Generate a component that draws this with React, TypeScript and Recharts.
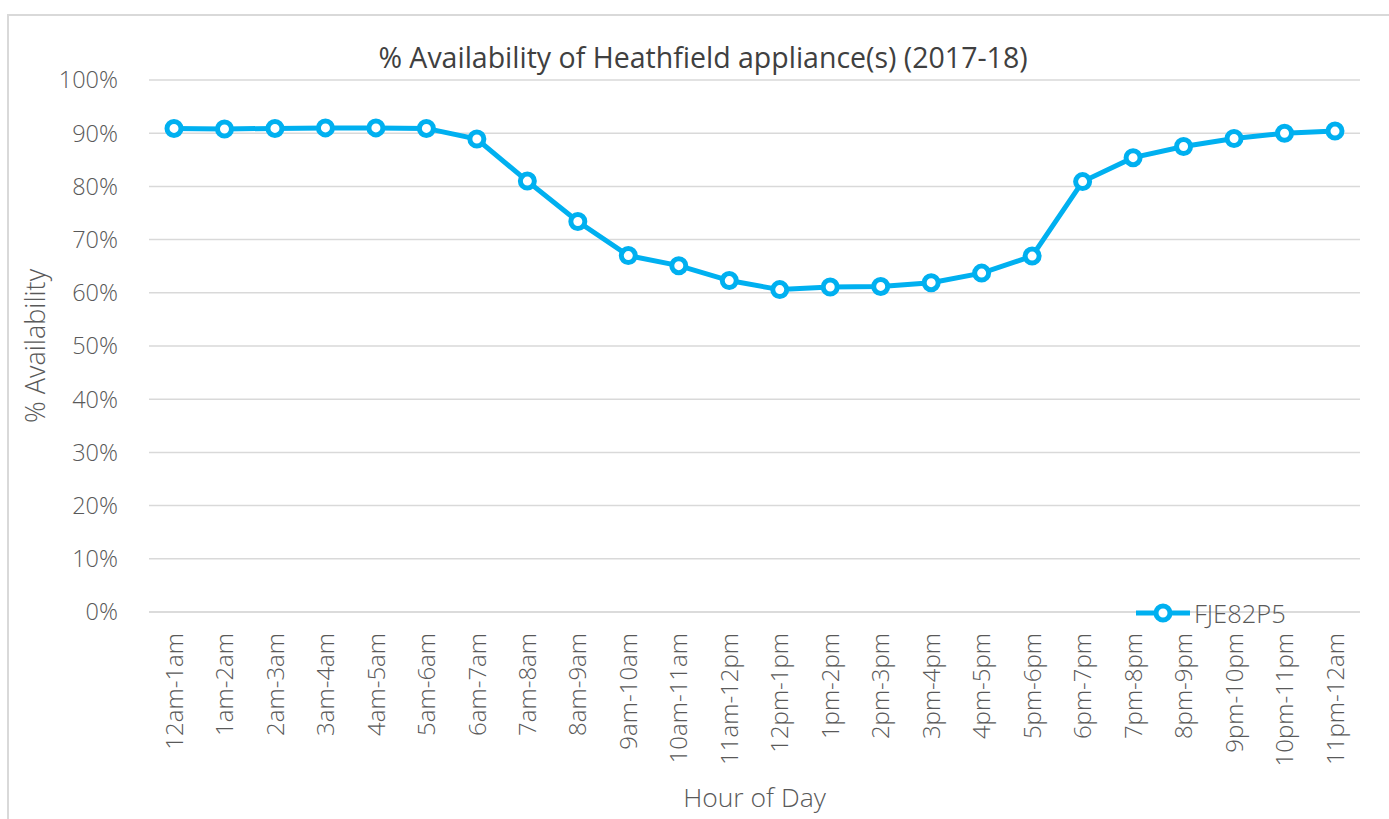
import React from 'react';
import { LineChart, Line, XAxis, YAxis, CartesianGrid, Label } from 'recharts';

const hours = [
  '12am-1am', '1am-2am', '2am-3am', '3am-4am', '4am-5am', '5am-6am',
  '6am-7am', '7am-8am', '8am-9am', '9am-10am', '10am-11am', '11am-12pm',
  '12pm-1pm', '1pm-2pm', '2pm-3pm', '3pm-4pm', '4pm-5pm', '5pm-6pm',
  '6pm-7pm', '7pm-8pm', '8pm-9pm', '9pm-10pm', '10pm-11pm', '11pm-12am',
];

const seriesName = 'FJE82P5';
const availability = [
  90.9, 90.8, 90.9, 91.0, 91.0, 90.9,
  88.9, 81.0, 73.4, 67.0, 65.1, 62.3,
  60.6, 61.1, 61.2, 61.9, 63.7, 66.9,
  80.9, 85.4, 87.5, 89.0, 90.0, 90.4,
];

const yTicks = [0, 10, 20, 30, 40, 50, 60, 70, 80, 90, 100];

const chartTitle = '% Availability of Heathfield appliance(s) (2017-18)';
const xTitle = 'Hour of Day';
const yTitle = '% Availability';

const BLUE = '#00B0F0';
const GRID = '#d9d9d9';
const TEXT = '#595959';
const FONT = '"Open Sans", "Noto Sans", sans-serif';

const data = hours.map((h, i) => ({ hour: h, [seriesName]: availability[i] }));

function HourTick(props: any) {
  const { x, y, payload } = props;
  return (
    <g transform={`translate(${x},${y})`}>
      <text
        transform="rotate(-90)"
        x={-13}
        y={0}
        dy="0.36em"
        textAnchor="end"
        fill={TEXT}
        fontSize={24}
        fontWeight={300}
        fontFamily={FONT}
      >
        {payload.value}
      </text>
    </g>
  );
}

export default function App() {
  return (
    <div style={{ position: 'absolute', left: 0, top: 0, width: 1389, height: 819, background: '#fff' }}>
      <div
        style={{
          position: 'absolute',
          left: 7,
          top: 14,
          width: 1382,
          height: 805,
          borderTop: `2px solid ${GRID}`,
          borderLeft: `2px solid ${GRID}`,
          boxSizing: 'border-box',
        }}
      />
      <div style={{ position: 'absolute', left: 0, top: 0 }}>
        <LineChart
          width={1389}
          height={819}
          data={data}
          margin={{ top: 80, right: 29, bottom: 0, left: 0 }}
          style={{ fontFamily: FONT }}
        >
          <text
            x={703}
            y={60}
            textAnchor="middle"
            dominantBaseline="middle"
            fill="#404040"
            fontSize={28.5}
            fontFamily={FONT}
          >
            {chartTitle}
          </text>
          <CartesianGrid vertical={false} stroke={GRID} strokeWidth={1.5} />
          <XAxis
            dataKey="hour"
            interval={0}
            padding={{ left: 25, right: 25 }}
            axisLine={{ stroke: GRID, strokeWidth: 1.5 }}
            tickLine={false}
            tick={<HourTick />}
            height={207}
          >
            <Label
              value={xTitle}
              position="insideBottom"
              offset={12}
              fill={TEXT}
              fontSize={26.5}
              fontWeight={300}
              fontFamily={FONT}
            />
          </XAxis>
          <YAxis
            domain={[0, 100]}
            ticks={yTicks}
            interval={0}
            tickFormatter={(v: number) => `${v}%`}
            axisLine={false}
            tickLine={false}
            tickSize={6}
            tickMargin={25}
            width={149}
            tick={{ fill: TEXT, fontSize: 23.5, fontWeight: 300, fontFamily: FONT }}
          >
            <Label
              content={(p: any) => {
                const cx = 38;
                const cy = p.viewBox.y + p.viewBox.height / 2;
                return (
                  <text
                    x={cx}
                    y={cy}
                    transform={`rotate(-90 ${cx} ${cy})`}
                    textAnchor="middle"
                    dominantBaseline="middle"
                    fill={TEXT}
                    fontSize={27}
                    fontWeight={300}
                    fontFamily={FONT}
                  >
                    {yTitle}
                  </text>
                );
              }}
            />
          </YAxis>
          <Line
            type="linear"
            dataKey={seriesName}
            stroke={BLUE}
            strokeWidth={5}
            dot={{ r: 7, stroke: BLUE, strokeWidth: 5, fill: '#fff' }}
            activeDot={false}
            isAnimationActive={false}
          />
        </LineChart>
      </div>
      <div
        style={{
          position: 'absolute',
          left: 1135,
          top: 597,
          display: 'flex',
          alignItems: 'center',
          fontFamily: FONT,
          fontSize: 25.5,
          fontWeight: 300,
          color: TEXT,
          lineHeight: '32px',
        }}
      >
        <svg width={56} height={32} style={{ display: 'block' }}>
          <line x1={1} y1={16} x2={55} y2={16} stroke={BLUE} strokeWidth={5} />
          <circle cx={28} cy={16} r={7} stroke={BLUE} strokeWidth={5} fill="#fff" />
        </svg>
        <span style={{ marginLeft: 3 }}>{seriesName}</span>
      </div>
    </div>
  );
}
